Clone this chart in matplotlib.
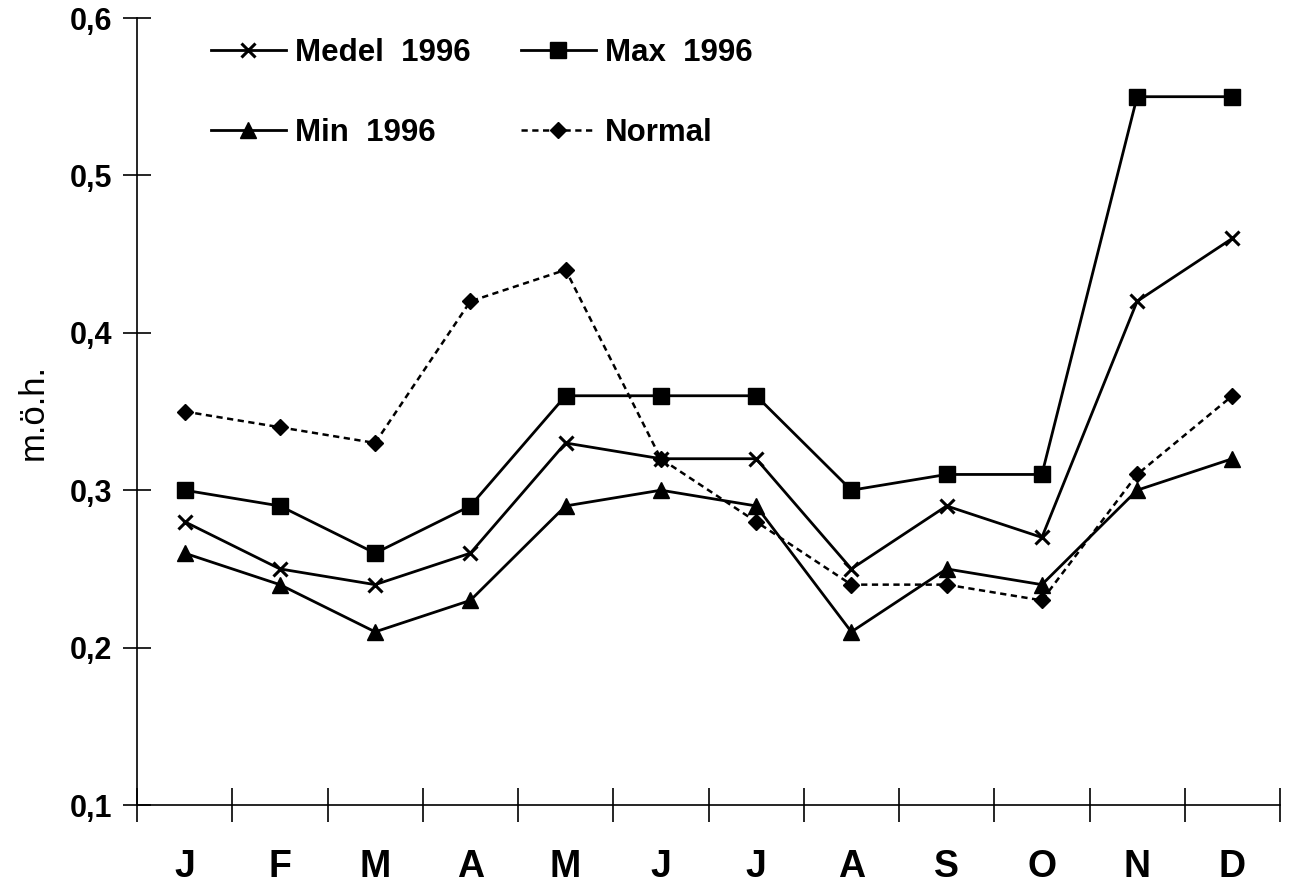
import matplotlib
matplotlib.use("Agg")
import matplotlib.pyplot as plt
import numpy as np

months = ["J", "F", "M", "A", "M", "J", "J", "A", "S", "O", "N", "D"]
medel = [0.28, 0.25, 0.24, 0.26, 0.33, 0.32, 0.32, 0.25, 0.29, 0.27, 0.42, 0.46]
maxv = [0.30, 0.29, 0.26, 0.29, 0.36, 0.36, 0.36, 0.30, 0.31, 0.31, 0.55, 0.55]
minv = [0.26, 0.24, 0.21, 0.23, 0.29, 0.30, 0.29, 0.21, 0.25, 0.24, 0.30, 0.32]
normal = [0.35, 0.34, 0.33, 0.42, 0.44, 0.32, 0.28, 0.24, 0.24, 0.23, 0.31, 0.36]
yticks = [0.1, 0.2, 0.3, 0.4, 0.5, 0.6]
ytick_labels = ["0,1", "0,2", "0,3", "0,4", "0,5", "0,6"]

plt.rcParams['font.family'] = ['Liberation Sans', 'DejaVu Sans']

fig = plt.figure(figsize=(12.89, 8.88), dpi=100)
ax = fig.add_axes([137/1289, 1-805/888, (1280-137)/1289, (805-18)/888])

x = np.arange(len(months))
lm, = ax.plot(x, medel, color='black', lw=2.0, marker='x', ms=10.5, mew=2.2, label='Medel  1996')
lx, = ax.plot(x, maxv, color='black', lw=2.0, marker='s', ms=11, label='Max  1996')
ln, = ax.plot(x, minv, color='black', lw=2.0, marker='^', ms=11.5, label='Min  1996')
lo, = ax.plot(x, normal, color='black', lw=1.8, ls=(0, (2.5, 1.8)), marker='D', ms=8.5, label='Normal')

ax.set_xlim(-0.5, len(months) - 0.5)
ax.set_ylim(0.1, 0.6)
ax.set_yticks(yticks)
ax.set_yticklabels(ytick_labels, fontsize=22, fontweight='bold')
ax.set_xticks(x)
ax.set_xticklabels(months, fontsize=27, fontweight='bold')
ax.set_xticks(np.arange(-0.5, len(months)), minor=True)
ax.tick_params(axis='x', which='major', length=0, pad=32)
ax.tick_params(axis='x', which='minor', direction='inout', length=24, width=1.2)
ax.tick_params(axis='y', direction='inout', length=20, width=1.2, pad=8)
for s in ['top', 'right']:
    ax.spines[s].set_visible(False)
for s in ['left', 'bottom']:
    ax.spines[s].set_linewidth(1.2)

ax.set_ylabel('m.ö.h.', fontsize=25, labelpad=14)

leg = ax.legend(handles=[lm, ln, lx, lo], ncol=2, loc='upper left',
                bbox_to_anchor=(0.040, 1.01), frameon=False,
                fontsize=22.5, handlelength=2.4, labelspacing=1.6,
                columnspacing=1.6, handletextpad=0.3)
for t in leg.get_texts():
    t.set_fontweight('bold')

fig.savefig('out.png', dpi=100)
